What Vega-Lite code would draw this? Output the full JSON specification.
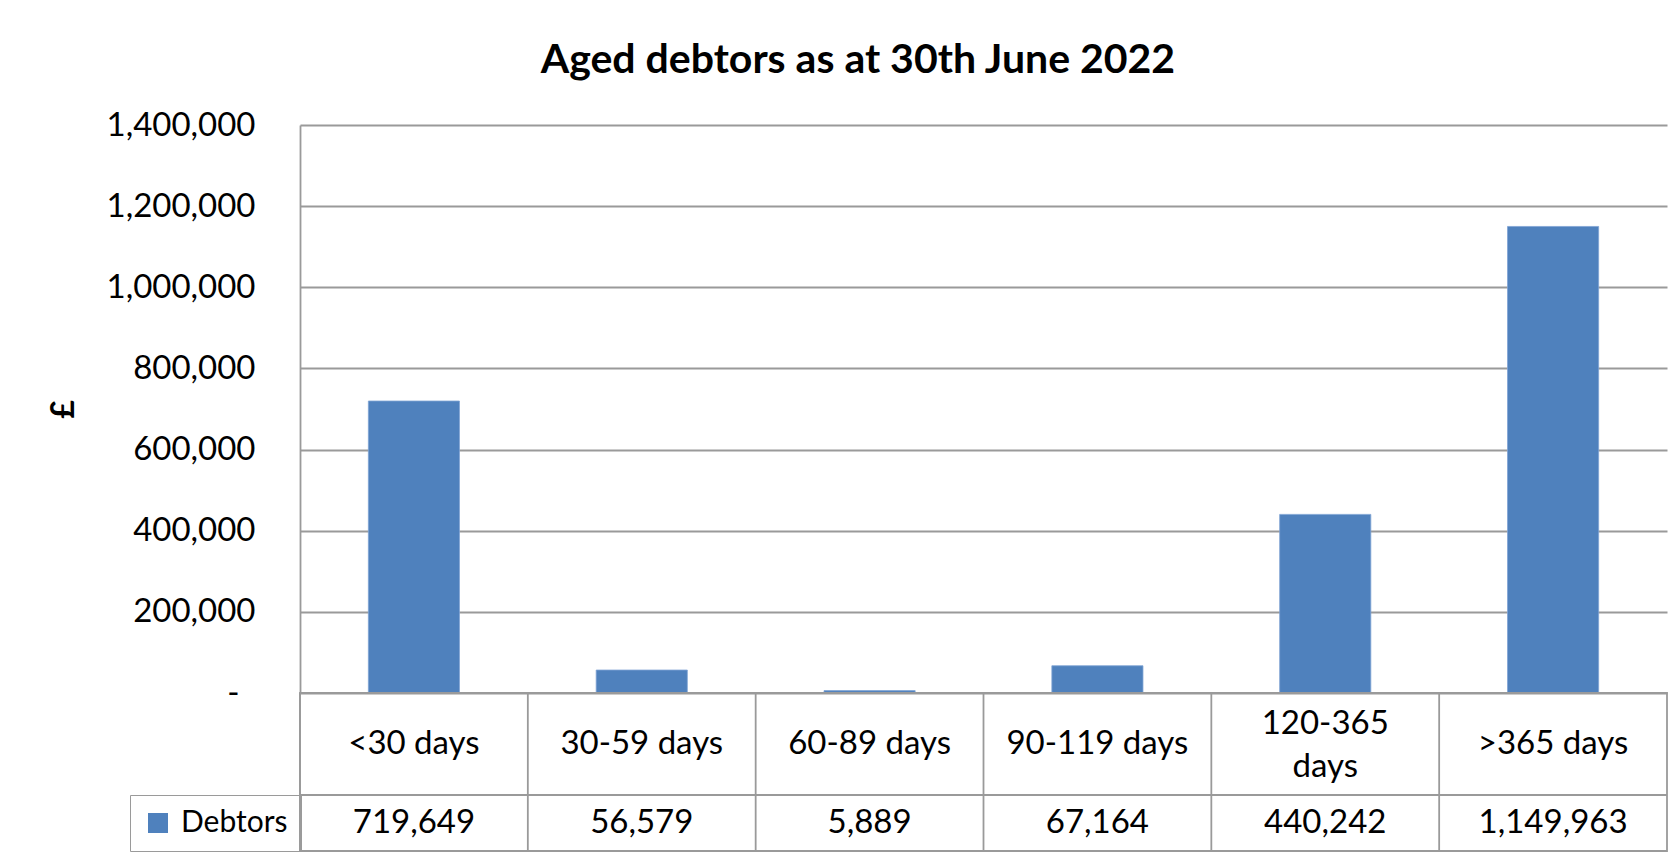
{
  "$schema": "https://vega.github.io/schema/vega-lite/v6.json",
  "padding": {"left": 47, "top": 40, "right": 7, "bottom": 3},
  "bounds": "flush",
  "spacing": 0,
  "background": "white",
  "title": {
    "text": "Aged debtors as at 30th June 2022",
    "font": "Lato",
    "fontSize": 41,
    "fontWeight": "bold",
    "color": "black",
    "anchor": "middle",
    "frame": "bounds",
    "offset": 27
  },
  "config": {
    "font": "Lato",
    "view": {"stroke": null},
    "axis": {
      "labelFont": "Lato",
      "labelFontSize": 33,
      "labelColor": "black",
      "titleFont": "Lato",
      "titleColor": "black"
    }
  },
  "datasets": {
    "debtors": [
      {"bucket": "<30 days", "label": "<30 days", "amount": 719649},
      {"bucket": "30-59 days", "label": "30-59 days", "amount": 56579},
      {"bucket": "60-89 days", "label": "60-89 days", "amount": 5889},
      {"bucket": "90-119 days", "label": "90-119 days", "amount": 67164},
      {"bucket": "120-365 days", "label": "120-365\ndays", "amount": 440242},
      {"bucket": ">365 days", "label": ">365 days", "amount": 1149963}
    ]
  },
  "resolve": {"scale": {"x": "independent", "y": "independent"}},
  "vconcat": [
    {
      "width": 1367,
      "height": 568,
      "data": {"name": "debtors"},
      "mark": {"type": "bar", "stroke": "#7fa3d4", "strokeWidth": 0.8},
      "encoding": {
        "x": {
          "field": "bucket",
          "type": "nominal",
          "sort": null,
          "scale": {"paddingInner": 0.6, "paddingOuter": 0.3},
          "axis": null
        },
        "y": {
          "field": "amount",
          "type": "quantitative",
          "scale": {"domain": [0, 1400000], "nice": false},
          "axis": {
            "values": [0, 200000, 400000, 600000, 800000, 1000000, 1200000, 1400000],
            "labelExpr": "datum.value == 0 ? '-' : format(datum.value, ',')",
            "labelPadding": {"condition": {"test": "datum.value == 0", "value": 61}, "value": 45},
            "ticks": false,
            "grid": true,
            "gridColor": "#9a9a9a",
            "gridWidth": 1.8,
            "domainColor": "#9a9a9a",
            "domainWidth": 1.8,
            "title": "£",
            "titleFontSize": 32,
            "titleFontWeight": "bold",
            "titlePadding": 26
          }
        },
        "color": {
          "datum": "Debtors",
          "type": "nominal",
          "scale": {"range": ["#4F81BD"]},
          "legend": {
            "orient": "none",
            "legendX": -170,
            "legendY": 670,
            "title": null,
            "strokeColor": "#9a9a9a",
            "padding": 13,
            "symbolType": "square",
            "symbolSize": 400,
            "symbolStrokeWidth": 0,
            "symbolOpacity": 1,
            "labelFont": "Lato",
            "labelFontSize": 30,
            "labelColor": "black",
            "labelOffset": 8,
            "encode": {"legend": {"update": {"strokeWidth": {"value": 1.8}}}}
          }
        }
      }
    },
    {
      "width": 1367,
      "height": 158,
      "data": {"name": "debtors"},
      "view": {"stroke": "#9a9a9a", "strokeWidth": 1.8},
      "layer": [
        {
          "mark": {"type": "rule", "color": "#9a9a9a", "strokeWidth": 1.8},
          "encoding": {
            "x": {
              "field": "bucket",
              "type": "nominal",
              "sort": null,
              "bandPosition": 0,
              "scale": {"paddingInner": 0, "paddingOuter": 0},
              "axis": null
            }
          }
        },
        {
          "mark": {"type": "rule", "color": "#9a9a9a", "strokeWidth": 1.8},
          "encoding": {
            "y": {
              "datum": 102,
              "type": "quantitative",
              "scale": {"domain": [0, 158], "reverse": true, "nice": false, "zero": false},
              "axis": null
            }
          }
        },
        {
          "transform": [{"filter": "indexof(datum.label, '\\n') < 0"}],
          "mark": {"type": "text", "font": "Lato", "fontSize": 33, "color": "black", "baseline": "middle"},
          "encoding": {
            "x": {"field": "bucket", "type": "nominal", "sort": null, "axis": null},
            "y": {"datum": 51, "type": "quantitative"},
            "text": {"field": "label"}
          }
        },
        {
          "transform": [{"filter": "indexof(datum.label, '\\n') >= 0"}],
          "mark": {"type": "text", "font": "Lato", "fontSize": 33, "color": "black", "lineBreak": "\n", "lineHeight": 43, "baseline": "middle"},
          "encoding": {
            "x": {"field": "bucket", "type": "nominal", "sort": null, "axis": null},
            "y": {"datum": 31, "type": "quantitative"},
            "text": {"field": "label"}
          }
        },
        {
          "mark": {"type": "text", "font": "Lato", "fontSize": 33, "color": "black", "baseline": "middle"},
          "encoding": {
            "x": {"field": "bucket", "type": "nominal", "sort": null, "axis": null},
            "y": {"datum": 130, "type": "quantitative"},
            "text": {"field": "amount", "type": "quantitative", "format": ","}
          }
        }
      ]
    }
  ]
}
